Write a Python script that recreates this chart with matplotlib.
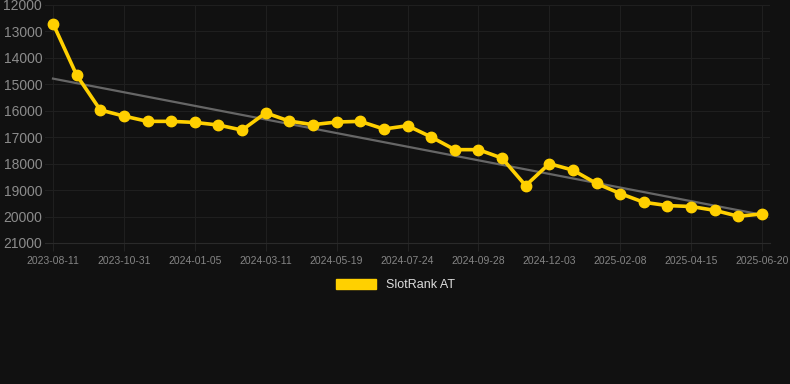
import matplotlib
matplotlib.use("Agg")
import matplotlib.pyplot as plt
import numpy as np
from matplotlib.patches import Patch

# ---------- данные ----------
ranks = [12700, 14650, 15970, 16200, 16400, 16400, 16440, 16540, 16730, 16080,
         16390, 16525, 16425, 16400, 16690, 16565, 16990, 17470, 17470, 17790,
         18830, 18000, 18245, 18750, 19130, 19460, 19585, 19620, 19765, 19990,
         19900]
tick_pos = [0, 3, 6, 9, 12, 15, 18, 21, 24, 27, 30]
tick_labels = ["2023-08-11", "2023-10-31", "2024-01-05", "2024-03-11",
               "2024-05-19", "2024-07-24", "2024-09-28", "2024-12-03",
               "2025-02-08", "2025-04-15", "2025-06-20"]
y_ticks = [12000, 13000, 14000, 15000, 16000, 17000, 18000, 19000, 20000, 21000]
series_name = "SlotRank AT"

BG = "#111111"
GOLD = "#FFD000"

plt.rcParams["font.family"] = ["Liberation Sans", "DejaVu Sans"]

fig = plt.figure(figsize=(7.9, 3.84), dpi=100, facecolor=BG)
W, H = 790, 384
ax_l, ax_r, ax_t, ax_b = 45, 770, 5, 243
ax = fig.add_axes([ax_l / W, 1 - ax_b / H, (ax_r - ax_l) / W, (ax_b - ax_t) / H])
ax.set_facecolor(BG)

x = np.arange(len(ranks))
# линия тренда (МНК по данным)
k, b = np.polyfit(x, ranks, 1)
ax.plot(x, k * x + b, color="#666666", linewidth=1.6, zorder=2)

ax.plot(x, ranks, color=GOLD, linewidth=2.6, marker="o", markersize=7.5,
        zorder=3)

pad = (8 / 709) * 30
ax.set_xlim(-pad, 30 + pad)
ax.set_ylim(21000, 12000)
ax.set_yticks(y_ticks)
ax.set_yticklabels([str(v) for v in y_ticks])
ax.set_xticks(tick_pos)
ax.set_xticklabels(tick_labels)

ax.grid(True, color="#1f1f1f", linewidth=0.8)
ax.set_axisbelow(True)
for s in ax.spines.values():
    s.set_visible(False)
ax.spines["bottom"].set_visible(True)
ax.spines["bottom"].set_color("#2a2a2a")
ax.tick_params(axis="y", length=0, pad=2, labelsize=10, labelcolor="#8c8c8c")
ax.tick_params(axis="x", length=6, color="#222222", pad=3, labelsize=7.5,
               labelcolor="#858585")

leg = fig.legend(handles=[Patch(facecolor=GOLD, edgecolor=GOLD, label=series_name)],
                 loc="center", bbox_to_anchor=(0.5, 1 - 285 / H), frameon=False,
                 handlelength=3.2, handleheight=0.9, fontsize=9)
for t in leg.get_texts():
    t.set_color("#dddddd")

fig.savefig("out.png", dpi=100, facecolor=BG)
